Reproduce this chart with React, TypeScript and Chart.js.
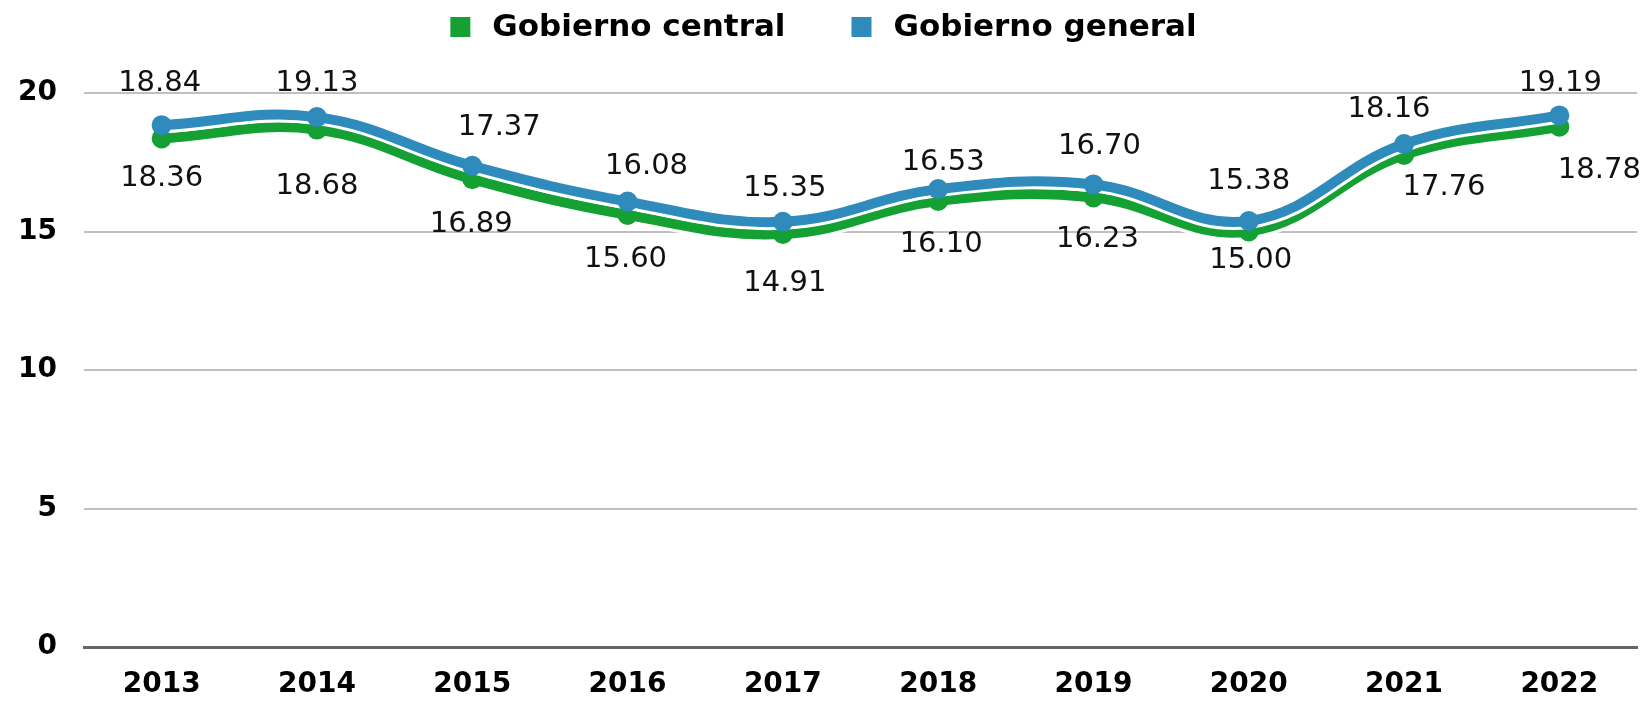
import { useEffect, useRef } from 'react';
import { Chart, registerables } from 'chart.js';

Chart.register(...registerables);

const years = ['2013', '2014', '2015', '2016', '2017', '2018', '2019', '2020', '2021', '2022'];
const gobiernoCentral = [18.36, 18.68, 16.89, 15.6, 14.91, 16.1, 16.23, 15.0, 17.76, 18.78];
const gobiernoGeneral = [18.84, 19.13, 17.37, 16.08, 15.35, 16.53, 16.7, 15.38, 18.16, 19.19];
const seriesNames = ['Gobierno central', 'Gobierno general'];
const yMin = 0;
const yMax = 20;
const yStep = 5;

// label nudges (pixels, relative to the point drawn by the library)
const generalLabelDx = [-2, 0, 27, 19, 2, 5, 6, 0, -15, 1];
const generalLabelDy = [-42, -34, -38, -35, -33, -27, -38, -40, -34, -32];
const centralLabelDx = [0, 0, -1, -2, 2, 3, 4, 2, 40, 40];
const centralLabelDy = [40, 57, 45, 45, 49, 43, 42, 29, 32, 44];

const GREEN = '#15a034';
const BLUE = '#2e8bbb';
const FONT = '"DejaVu Sans", Inter, sans-serif';

const valueLabelPlugin = {
  id: 'valueLabels',
  afterDatasetsDraw(chart: any) {
    const ctx = chart.ctx;
    ctx.save();
    ctx.font = `400 29px ${FONT}`;
    ctx.fillStyle = '#111';
    ctx.textAlign = 'center';
    ctx.textBaseline = 'middle';
    chart.data.datasets.forEach((ds: any, di: number) => {
      if (!ds.labelDx) return;
      const meta = chart.getDatasetMeta(di);
      meta.data.forEach((pt: any, i: number) => {
        const v = ds.data[i];
        ctx.fillText(v.toFixed(2), pt.x + ds.labelDx[i], pt.y + ds.labelDy[i]);
      });
    });
    ctx.restore();
  },
};

const customLegendPlugin = {
  id: 'customLegend',
  afterDraw(chart: any) {
    const ctx = chart.ctx;
    ctx.save();
    ctx.font = `bold 31px ${FONT}`;
    ctx.textBaseline = 'middle';
    ctx.textAlign = 'left';
    const items = chart.data.datasets.filter((d: any) => d.inLegend);
    items.sort((a: any, b: any) => a.legendIndex - b.legendIndex);
    const box = 20;
    const gap = 22;
    const sep = 66;
    const widths = items.map((d: any) => box + gap + ctx.measureText(d.label).width);
    const total = widths.reduce((a: number, b: number) => a + b, 0) + sep * (items.length - 1);
    let x = (chart.width - total) / 2;
    const cy = 27;
    items.forEach((d: any, i: number) => {
      ctx.fillStyle = d.borderColor;
      ctx.fillRect(x, cy - box / 2, box, box);
      ctx.fillStyle = '#000';
      ctx.fillText(d.label, x + box + gap, cy + 1);
      x += widths[i] + sep;
    });
    ctx.restore();
  },
};

export default function App() {
  const canvasRef = useRef<HTMLCanvasElement | null>(null);

  useEffect(() => {
    document.body.style.margin = '0';
    const canvas = canvasRef.current;
    if (!canvas) return;
    const chart = new Chart(canvas, {
      type: 'line',
      data: {
        labels: years,
        datasets: [
          {
            label: seriesNames[1],
            data: gobiernoGeneral,
            borderColor: BLUE,
            backgroundColor: BLUE,
            borderWidth: 10,
            pointRadius: 10,
            pointBorderWidth: 0,
            pointBackgroundColor: BLUE,
            tension: 0.4,
            order: 0,
            inLegend: true,
            legendIndex: 1,
            labelDx: generalLabelDx,
            labelDy: generalLabelDy,
          } as any,
          {
            label: 'outline-general',
            data: gobiernoGeneral,
            borderColor: '#ffffff',
            borderWidth: 16,
            pointRadius: 0,
            tension: 0.4,
            order: 1,
          } as any,
          {
            label: seriesNames[0],
            data: gobiernoCentral,
            borderColor: GREEN,
            backgroundColor: GREEN,
            borderWidth: 10,
            pointRadius: 10,
            pointBorderWidth: 0,
            pointBackgroundColor: GREEN,
            tension: 0.4,
            order: 2,
            inLegend: true,
            legendIndex: 0,
            labelDx: centralLabelDx,
            labelDy: centralLabelDy,
          } as any,
          {
            label: 'outline-central',
            data: gobiernoCentral,
            borderColor: '#ffffff',
            borderWidth: 16,
            pointRadius: 0,
            tension: 0.4,
            order: 3,
          } as any,
        ],
      },
      options: {
        animation: false,
        responsive: false,
        maintainAspectRatio: false,
        layout: { padding: { top: 93, right: 10, left: 0, bottom: 0 } },
        plugins: {
          legend: { display: false },
          tooltip: { enabled: false },
        },
        scales: {
          x: {
            offset: true,
            grid: { display: false, drawTicks: false },
            border: { display: true, color: '#666666', width: 3 },
            ticks: {
              padding: 21,
              color: '#000',
              font: { family: FONT, size: 28, weight: 'bold' },
              maxRotation: 0,
            },
            afterFit: (scale: any) => {
              scale.height = 54;
            },
          },
          y: {
            min: yMin,
            max: yMax,
            grid: { color: '#c0c0c0', lineWidth: 2, drawTicks: false },
            border: { display: false },
            ticks: {
              stepSize: yStep,
              padding: 27,
              color: '#000',
              font: { family: FONT, size: 28, weight: 'bold' },
            },
            afterFit: (scale: any) => {
              scale.width = 84;
            },
          },
        },
      } as any,
      plugins: [valueLabelPlugin, customLegendPlugin],
    });
    return () => chart.destroy();
  }, []);

  return (
    <div style={{ position: 'absolute', left: 0, top: 0, width: 1647, height: 701 }}>
      <canvas ref={canvasRef} width={1647} height={701} style={{ width: 1647, height: 701 }} />
    </div>
  );
}
